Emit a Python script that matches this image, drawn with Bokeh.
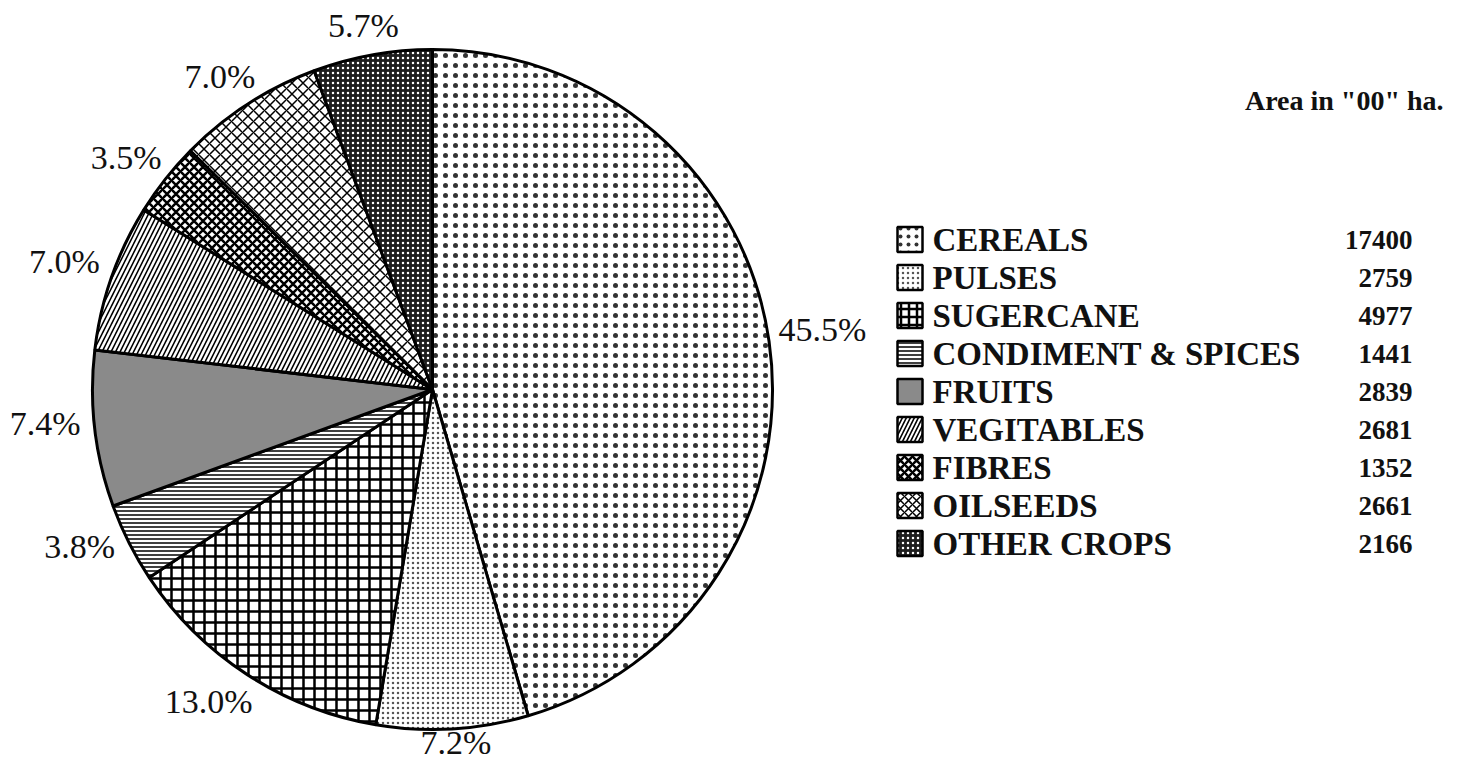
import numpy as np
from bokeh.plotting import figure
from bokeh.models import ColumnDataSource, Range1d
from bokeh.core.properties import value
from bokeh.embed import file_html
from bokeh.resources import INLINE

# ---------------- data ----------------
crops = ["CEREALS", "PULSES", "SUGERCANE", "CONDIMENT & SPICES", "FRUITS",
         "VEGITABLES", "FIBRES", "OILSEEDS", "OTHER CROPS"]
area = [17400, 2759, 4977, 1441, 2839, 2681, 1352, 2661, 2166]
pct_labels = ["45.5%", "7.2%", "13.0%", "3.8%", "7.4%", "7.0%", "3.5%", "7.0%", "5.7%"]
title_text = 'Area in "00" ha.'

# ---------------- styles ----------------
fill_colors = ["white", "white", "white", "white", "#8a8a8a", "white", "white", "white", "#1e1e1e"]
hatch_patterns = [".", ".", "+", "-", " ", "/", "x", "x", "."]
hatch_colors = ["#333333", "#555555", "black", "black", "black", "black", "black", "black", "white"]
hatch_scales = [10, 5, 11, 4, 12, 9, 9, 11, 5]
hatch_weights = [1, 1, 2.5, 1.5, 1, 1.6, 2.5, 1.5, 1]

W, H = 1452, 762
FONT = "Liberation Serif"
LABEL_PX = 34

def Y(y_img):
    return 770 - y_img

cx, cy, r = 432, Y(389), 340
label_cy = Y(381)
label_rx, label_ry = 390, 362
gap = 9

vals = np.array(area, dtype=float)
frac = vals / vals.sum()
cum = np.concatenate([[0], np.cumsum(frac)])
start = np.pi / 2 - cum[1:] * 2 * np.pi
end = np.pi / 2 - cum[:-1] * 2 * np.pi
mid = (start + end) / 2

# label placement: elliptical ring, pushed outwards so the text box clears the pie
char_w = {".": 0.25, "%": 0.833}
def half_w(t):
    return 0.5 * LABEL_PX * sum(char_w.get(c, 0.5) for c in t)

lx, lyy = [], []
for t, a in zip(pct_labels, mid):
    px = label_rx * np.cos(a)
    py = label_cy - cy + label_ry * np.sin(a)
    hw, hh = half_w(t), 12
    s = 1.0
    for _ in range(200):
        qx = max(abs(px * s) - hw, 0)
        qy = max(abs(py * s) - hh, 0)
        if np.hypot(qx, qy) >= r + gap:
            break
        s += 0.002
    x_l = cx + px * s
    y_l = min(max(cy + py * s, Y(742)), Y(22))
    lx.append(x_l)
    lyy.append(y_l)

src = ColumnDataSource(dict(
    start=start, end=end, fill=fill_colors, hp=hatch_patterns, hc=hatch_colors,
    hs=hatch_scales, hw=hatch_weights,
))

p = figure(width=W, height=H, output_backend="svg", toolbar_location=None,
           x_range=Range1d(0, W), y_range=Range1d(770 - H, 770),
           min_border=0, x_axis_location=None, y_axis_location=None)
p.grid.visible = False
p.outline_line_color = None
p.background_fill_color = "white"

p.wedge(x=cx, y=cy, radius=r, start_angle="start", end_angle="end", source=src,
        direction="anticlock", fill_color="fill", hatch_pattern="hp", hatch_color="hc",
        hatch_scale="hs", hatch_weight="hw", line_color="black", line_width=3)

# percentage labels
lsrc = ColumnDataSource(dict(x=lx, y=lyy, t=pct_labels))
p.text(x="x", y="y", text="t", source=lsrc, text_align="center", text_baseline="middle",
       text_font=value(FONT), text_font_size=f"{LABEL_PX}px", text_color="#111111")

# legend
rows = np.arange(len(crops))
ly = [Y(239 + 38 * i) for i in rows]
gsrc = ColumnDataSource(dict(
    x=[909.5] * len(crops), y=ly, fill=fill_colors, hp=hatch_patterns, hc=hatch_colors,
    hs=[min(s, 8) for s in hatch_scales], hw=hatch_weights, name=crops,
    v=[str(a) for a in area], tx=[932] * len(crops), vx=[1412] * len(crops)))
p.rect(x="x", y="y", width=25, height=25, source=gsrc, fill_color="fill",
       hatch_pattern="hp", hatch_color="hc", hatch_scale="hs", hatch_weight="hw",
       line_color="black", line_width=2.5)
p.text(x="tx", y="y", text="name", source=gsrc, text_align="left", text_baseline="middle",
       text_font=value(FONT), text_font_size="33px", text_font_style="bold", text_color="#111111")
p.text(x="vx", y="y", text="v", source=gsrc, text_align="right", text_baseline="middle",
       text_font=value(FONT), text_font_size="27px", text_font_style="bold", text_color="#111111")

p.text(x=[1443], y=[Y(100)], text=[title_text], text_align="right", text_baseline="middle",
       text_font=value(FONT), text_font_size="28px", text_font_style="bold", text_color="#111111")

open("out.html", "w").write(file_html(p, INLINE))
